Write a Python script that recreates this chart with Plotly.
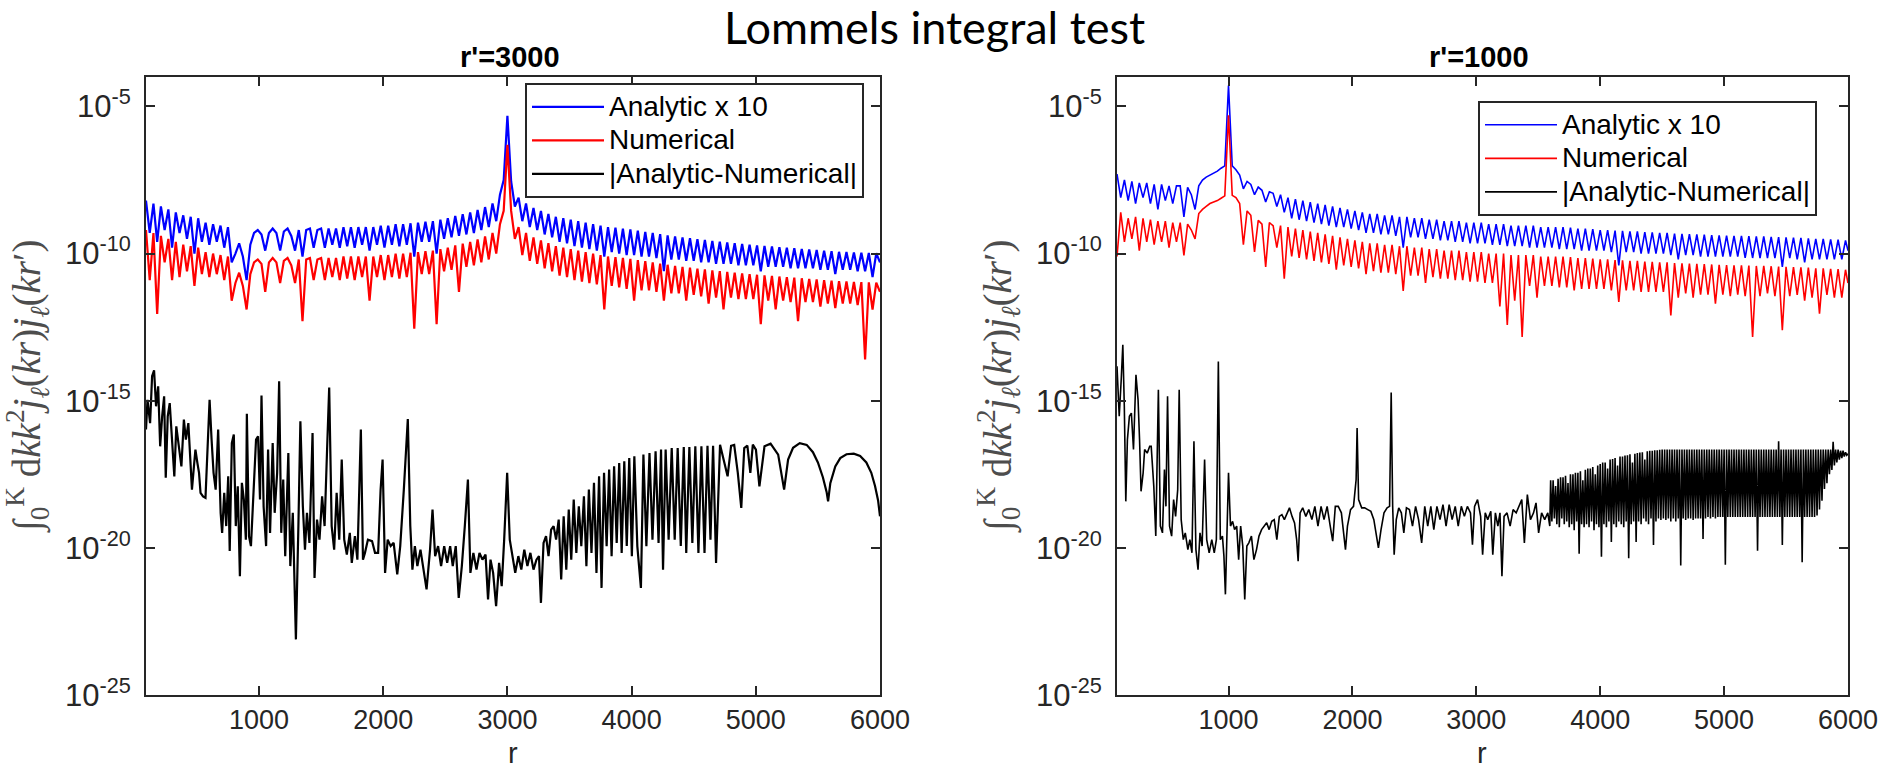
import plotly.graph_objects as go

# ---------------- data (values are log10 of the plotted quantity) ----------------
R_LEFT = list(range(90, 6001, 30))          # sample positions r, panel r'=3000
LEFT_ANALYTIC_LOG = [
    -8.2, -9.3, -8.3, -9.6, -8.4, -9.2, -8.5, -9.8, -8.6, -9.3,
    -8.7, -9.5, -8.75, -10.0, -8.8, -9.6, -8.95, -9.7, -9.0, -9.6,
    -9.05, -9.8, -9.1, -10.3, -10.0, -9.65, -10.1, -10.9, -9.7, -9.3,
    -9.2, -9.35, -9.9, -9.3, -9.15, -9.3, -9.9, -9.25, -9.15, -9.4,
    -9.9, -9.2, -10.1, -9.2, -9.15, -9.8, -9.2, -9.15, -9.8, -9.15,
    -9.7, -9.15, -9.8, -9.1, -9.75, -9.1, -9.8, -9.1, -9.7, -9.1,
    -9.9, -9.1, -9.7, -9.05, -9.8, -9.05, -9.7, -9.0, -9.75, -9.0,
    -9.7, -8.97, -10.1, -8.95, -9.6, -8.92, -9.6, -8.9, -10.0, -8.85,
    -9.5, -8.8, -9.45, -8.72, -9.4, -8.66, -9.35, -8.6, -9.3, -8.52,
    -9.2, -8.42, -9.1, -8.3, -8.9, -8.0, -7.5, -5.32, -7.55, -8.4,
    -8.1, -8.9, -8.3, -9.1, -8.45, -9.2, -8.55, -9.35, -8.65, -9.45,
    -8.75, -9.6, -8.8, -9.65, -8.85, -9.75, -8.9, -9.8, -8.95, -9.85,
    -9.0, -9.9, -9.05, -10.1, -9.1, -9.95, -9.12, -10.0, -9.15, -10.05,
    -9.18, -10.05, -9.22, -10.1, -9.26, -10.1, -9.3, -10.15, -9.34, -10.6,
    -9.38, -10.2, -9.42, -10.2, -9.45, -10.25, -9.48, -10.25, -9.51, -10.3,
    -9.54, -10.3, -9.57, -10.35, -9.6, -10.35, -9.62, -10.35, -9.65, -10.4,
    -9.67, -10.4, -9.7, -10.4, -9.72, -10.6, -9.74, -10.45, -9.76, -10.45,
    -9.78, -10.45, -9.8, -10.5, -9.82, -10.5, -9.84, -10.5, -9.86, -10.5,
    -9.88, -10.55, -9.9, -10.55, -9.92, -10.7, -9.94, -10.55, -9.95, -10.55,
    -9.96, -10.6, -9.97, -10.6, -9.98, -10.8, -9.99, -10.3]
LEFT_NUMERICAL_LOG = [
    -9.2, -10.9, -9.3, -12.05, -9.4, -10.3, -9.5, -10.9, -9.6, -10.8,
    -9.7, -10.6, -9.75, -11.1, -9.8, -10.7, -9.95, -10.8, -10.0, -10.7,
    -10.05, -10.9, -10.1, -11.6, -11.0, -10.65, -11.1, -11.9, -10.7, -10.3,
    -10.2, -10.35, -11.3, -10.3, -10.15, -10.3, -11.0, -10.25, -10.15, -10.4,
    -11.0, -10.2, -12.3, -10.2, -10.15, -10.9, -10.2, -10.15, -10.9, -10.15,
    -10.8, -10.15, -10.9, -10.1, -10.85, -10.1, -10.9, -10.1, -10.8, -10.1,
    -11.6, -10.1, -10.8, -10.05, -10.9, -10.05, -10.8, -10.0, -10.85, -10.0,
    -10.8, -9.97, -12.55, -9.95, -10.7, -9.92, -10.7, -9.9, -12.4, -9.85,
    -10.6, -9.8, -10.55, -9.72, -11.3, -9.66, -10.45, -9.6, -10.4, -9.52,
    -10.3, -9.42, -10.2, -9.3, -10.0, -9.0, -8.55, -6.3, -8.55, -9.5,
    -9.1, -10.05, -9.3, -10.25, -9.45, -10.35, -9.55, -10.5, -9.65, -10.6,
    -9.75, -10.75, -9.8, -10.8, -9.85, -10.9, -9.9, -10.95, -9.95, -11.0,
    -10.0, -11.05, -10.05, -11.9, -10.1, -11.1, -10.12, -11.15, -10.15, -11.2,
    -10.18, -11.6, -10.22, -11.25, -10.26, -11.25, -10.3, -11.3, -10.34, -11.6,
    -10.38, -11.35, -10.42, -11.35, -10.45, -11.6, -10.48, -11.4, -10.51, -11.45,
    -10.54, -11.7, -10.57, -11.5, -10.6, -11.9, -10.62, -11.5, -10.65, -11.55,
    -10.67, -11.55, -10.7, -11.55, -10.72, -12.4, -10.74, -11.6, -10.76, -11.9,
    -10.78, -11.6, -10.8, -11.65, -10.82, -12.3, -10.84, -11.65, -10.86, -11.65,
    -10.88, -11.8, -10.9, -11.7, -10.92, -11.85, -10.94, -11.7, -10.95, -11.7,
    -10.96, -11.75, -10.97, -13.6, -10.98, -11.9, -10.99, -11.3]
LEFT_DIFF = [  # (r, log10 |Analytic-Numerical|), panel r'=3000
    (90, -15.98), (102, -14.97), (123, -15.76), (139, -14.17), (155, -13.97), (171, -15.19),
    (188, -14.51), (204, -16.55), (220, -15.53), (236, -14.85), (249, -17.62), (265, -15.53),
    (281, -15.08), (301, -16.32), (318, -17.57), (334, -15.87), (354, -16.55), (375, -17.23),
    (395, -15.64), (411, -16.32), (431, -15.76), (448, -17.28), (460, -18.02), (476, -17.23),
    (488, -16.66), (504, -17.12), (517, -17.45), (529, -18.13), (549, -18.25), (569, -18.3),
    (586, -16.32), (602, -14.97), (618, -16.32), (634, -17.45), (651, -18.02), (671, -15.98),
    (691, -18.81), (703, -19.49), (720, -18.13), (736, -19.26), (752, -17.57), (764, -20.11),
    (781, -16.44), (797, -16.15), (813, -19.26), (829, -17.91), (846, -20.96), (862, -17.79),
    (878, -18.36), (894, -19.72), (902, -15.44), (919, -19.6), (935, -19.94), (955, -18.02),
    (976, -16.32), (992, -16.21), (1008, -18.36), (1020, -14.82), (1037, -18.59), (1057, -19.94),
    (1073, -16.66), (1089, -19.49), (1110, -16.44), (1126, -18.81), (1146, -17.45), (1162, -14.34),
    (1179, -19.49), (1195, -17.68), (1211, -20.28), (1236, -16.78), (1252, -20.62), (1272, -18.81),
    (1297, -23.11), (1317, -19.26), (1333, -15.7), (1353, -18.59), (1370, -20.06), (1386, -18.81),
    (1406, -19.83), (1431, -16.1), (1447, -21.02), (1467, -19.04), (1487, -19.72), (1508, -18.25),
    (1528, -19.26), (1548, -16.66), (1565, -14.55), (1585, -19.26), (1605, -20.06), (1625, -18.13),
    (1646, -19.72), (1666, -17.0), (1686, -19.72), (1707, -20.23), (1731, -19.49), (1747, -20.51),
    (1772, -19.6), (1792, -20.4), (1820, -15.98), (1837, -20.4), (1853, -20.17), (1877, -19.72),
    (1910, -19.77), (1934, -20.17), (1959, -20.17), (1979, -18.02), (1995, -17.0), (2015, -20.85),
    (2036, -19.72), (2060, -19.94), (2084, -19.83), (2113, -20.9), (2137, -19.94), (2166, -18.02),
    (2198, -15.62), (2218, -19.26), (2235, -20.74), (2255, -19.94), (2275, -20.62), (2300, -20.06),
    (2324, -20.74), (2349, -21.41), (2377, -20.06), (2397, -18.7), (2418, -20.28), (2442, -19.94),
    (2466, -20.62), (2491, -19.94), (2515, -20.51), (2539, -19.94), (2560, -20.62), (2584, -19.94),
    (2608, -21.7), (2633, -20.62), (2657, -19.26), (2682, -17.68), (2702, -20.85), (2726, -20.17),
    (2751, -20.74), (2775, -20.17), (2799, -20.4), (2824, -20.23), (2844, -21.75), (2864, -20.4),
    (2885, -20.85), (2909, -21.98), (2933, -20.51), (2954, -21.3), (2974, -19.72), (2998, -17.45),
    (3019, -19.72), (3039, -20.28), (3063, -20.85), (3088, -20.28), (3112, -20.74), (3136, -20.06),
    (3161, -20.62), (3185, -20.17), (3210, -20.74), (3234, -20.4), (3254, -20.28), (3270, -21.87),
    (3291, -19.83), (3311, -19.6), (3331, -20.28), (3352, -19.38), (3372, -19.26), (3392, -19.72),
    (3413, -19.04), (3433, -21.07), (3453, -18.93), (3474, -20.74), (3494, -18.7), (3514, -20.4),
    (3534, -18.36), (3555, -20.17), (3575, -18.59), (3595, -19.94), (3616, -18.25), (3636, -20.62),
    (3656, -18.02), (3677, -20.17), (3697, -17.79), (3717, -20.85), (3738, -17.57), (3758, -21.36),
    (3778, -17.45), (3799, -19.94), (3819, -17.34), (3839, -20.28), (3859, -17.23), (3880, -19.83),
    (3900, -17.12), (3920, -20.17), (3941, -17.06), (3961, -19.94), (3981, -16.95), (4002, -20.28),
    (4022, -16.89), (4046, -19.94), (4075, -21.36), (4095, -16.83), (4119, -19.94), (4144, -16.78),
    (4168, -19.72), (4193, -16.72), (4217, -19.83), (4237, -16.66), (4253, -20.74), (4274, -16.66),
    (4298, -19.72), (4323, -16.61), (4347, -19.72), (4371, -16.61), (4396, -19.94), (4420, -16.57),
    (4440, -20.17), (4465, -16.57), (4489, -19.83), (4513, -16.55), (4538, -20.17), (4562, -16.55),
    (4587, -20.17), (4611, -16.53), (4635, -19.72), (4656, -16.53), (4680, -20.51), (4712, -16.5),
    (4753, -17.23), (4773, -17.57), (4801, -16.53), (4826, -16.5), (4855, -17.45), (4883, -18.64),
    (4907, -16.61), (4932, -16.53), (4956, -17.45), (4976, -16.49), (5001, -16.66), (5029, -17.91),
    (5070, -16.55), (5119, -16.46), (5180, -16.83), (5228, -18.02), (5260, -17.0), (5300, -16.6),
    (5354, -16.44), (5410, -16.5), (5460, -16.75), (5500, -17.1), (5540, -17.6), (5570, -18.1),
    (5582, -18.42), (5600, -17.8), (5640, -17.23), (5680, -16.95), (5730, -16.82), (5789, -16.8),
    (5840, -16.88), (5890, -17.1), (5930, -17.45), (5960, -17.9), (5985, -18.4), (6000, -18.93)]

R_RIGHT = list(range(100, 5981, 30)) + [6000]   # sample positions r, panel r'=1000
RIGHT_ANALYTIC_LOG = [
    -7.3, -8.1, -7.5, -8.2, -7.55, -8.3, -7.6, -8.1, -7.6, -8.3,
    -7.65, -8.5, -7.65, -8.2, -7.7, -8.3, -7.7, -7.7, -8.75, -7.75,
    -8.0, -8.5, -7.7, -7.5, -7.4, -7.33, -7.28, -7.2, -7.1, -7.02,
    -4.29, -7.02, -7.15, -7.33, -7.8, -7.55, -7.65, -8.0, -7.74, -7.85,
    -8.25, -7.9, -7.95, -8.4, -8.0, -8.6, -8.1, -8.8, -8.15, -8.85,
    -8.2, -8.9, -8.25, -8.95, -8.3, -9.0, -8.35, -9.05, -8.4, -9.1,
    -8.45, -9.1, -8.5, -9.15, -8.55, -9.2, -8.6, -9.3, -8.65, -9.3,
    -8.65, -9.35, -8.7, -9.35, -8.7, -9.4, -8.75, -9.8, -8.75, -9.45,
    -8.8, -9.45, -8.8, -9.5, -8.85, -9.5, -8.85, -9.55, -8.9, -9.55,
    -8.9, -9.6, -8.9, -9.6, -8.95, -9.65, -8.95, -9.65, -8.95, -9.65,
    -9.0, -9.7, -9.0, -9.7, -9.0, -9.75, -9.05, -9.75, -9.05, -9.75,
    -9.05, -9.8, -9.05, -9.8, -9.1, -9.8, -9.1, -9.8, -9.1, -9.85,
    -9.1, -9.85, -9.12, -9.85, -9.15, -9.9, -9.15, -9.9, -9.17, -9.9,
    -9.2, -9.9, -9.2, -9.95, -9.22, -10.4, -9.23, -9.95, -9.25, -9.95,
    -9.25, -10.0, -9.27, -10.0, -9.28, -10.0, -9.3, -10.0, -9.3, -10.05,
    -9.32, -10.2, -9.33, -10.05, -9.34, -10.05, -9.35, -10.1, -9.36, -10.1,
    -9.37, -10.1, -9.38, -10.1, -9.39, -10.1, -9.4, -10.1, -9.4, -10.15,
    -9.41, -10.15, -9.42, -10.15, -9.42, -10.15, -9.43, -10.15, -9.44, -10.45,
    -9.45, -10.15, -9.46, -10.2, -9.47, -10.3, -9.48, -10.2, -9.5, -10.2,
    -9.5, -10.2, -9.52, -10.2, -9.53, -10.2, -9.55, -9.9]
RIGHT_NUMERICAL_LOG = [
    -10.1, -8.6, -9.6, -8.8, -9.5, -8.75, -9.9, -8.8, -9.6, -8.85,
    -9.7, -8.9, -9.6, -8.9, -9.8, -8.95, -9.6, -8.95, -10.06, -9.0,
    -9.2, -9.5, -8.64, -8.5, -8.4, -8.3, -8.25, -8.2, -8.12, -8.04,
    -5.3, -8.02, -8.1, -8.3, -9.7, -8.55, -8.7, -9.94, -8.87, -9.0,
    -10.45, -8.95, -9.05, -9.8, -9.05, -10.85, -9.1, -10.1, -9.15, -10.15,
    -9.2, -10.2, -9.25, -10.25, -9.3, -10.3, -9.35, -10.35, -9.4, -10.55,
    -9.45, -10.4, -9.5, -10.45, -9.55, -10.5, -9.6, -10.7, -9.65, -10.6,
    -9.65, -10.65, -9.7, -10.65, -9.7, -10.7, -9.75, -11.27, -9.75, -10.75,
    -9.8, -10.75, -9.8, -11.0, -9.85, -10.8, -9.85, -10.85, -9.9, -10.85,
    -9.9, -10.9, -9.9, -10.9, -9.95, -10.95, -9.95, -10.95, -9.95, -11.0,
    -10.0, -11.0, -10.0, -11.8, -10.0, -12.43, -10.05, -11.6, -10.05, -12.83,
    -10.05, -11.1, -10.05, -11.5, -10.1, -11.1, -10.1, -11.1, -10.1, -11.15,
    -10.1, -11.15, -10.12, -11.25, -10.15, -11.2, -10.15, -11.2, -10.17, -11.2,
    -10.2, -11.2, -10.2, -11.25, -10.22, -11.64, -10.23, -11.25, -10.25, -11.25,
    -10.25, -11.3, -10.27, -11.3, -10.28, -11.3, -10.3, -11.3, -10.3, -12.1,
    -10.32, -11.5, -10.33, -11.35, -10.34, -11.5, -10.35, -11.4, -10.36, -11.4,
    -10.37, -11.7, -10.38, -11.4, -10.39, -11.45, -10.4, -11.4, -10.4, -11.45,
    -10.41, -12.83, -10.42, -11.45, -10.42, -11.35, -10.43, -11.45, -10.44, -12.6,
    -10.45, -11.45, -10.46, -11.4, -10.47, -11.6, -10.48, -11.5, -10.5, -12.04,
    -10.5, -11.4, -10.52, -11.5, -10.53, -11.5, -10.55, -11.0]
RIGHT_DIFF = [  # (r, log10 |Analytic-Numerical|), panel r'=1000, r < 3600
    (100, -13.83), (118, -15.53), (134, -14.29), (147, -13.1), (159, -15.19), (171, -18.42),
    (184, -16.32), (200, -15.53), (216, -15.42), (233, -16.66), (253, -14.12), (270, -14.97),
    (282, -16.32), (294, -18.08), (311, -17.45), (323, -16.66), (344, -16.78), (364, -16.55),
    (376, -16.55), (397, -17.91), (413, -19.6), (434, -14.63), (450, -19.26), (467, -19.49),
    (483, -17.34), (495, -18.59), (508, -14.85), (524, -19.26), (541, -19.6), (557, -18.36),
    (573, -18.93), (590, -18.02), (602, -14.63), (618, -19.04), (635, -19.72), (651, -19.49),
    (672, -20.06), (688, -19.72), (705, -20.17), (721, -16.38), (737, -20.06), (754, -20.74),
    (770, -19.49), (787, -19.94), (807, -17.0), (824, -19.72), (844, -20.17), (865, -19.72),
    (885, -20.17), (902, -19.72), (918, -13.67), (934, -19.72), (951, -19.6), (963, -20.28),
    (975, -21.58), (988, -19.72), (1000, -17.45), (1016, -19.26), (1033, -19.1), (1049, -19.38),
    (1066, -19.26), (1082, -20.4), (1098, -19.26), (1115, -19.94), (1131, -21.75), (1148, -19.94),
    (1164, -19.83), (1185, -19.6), (1205, -20.4), (1226, -20.06), (1246, -19.6), (1267, -19.38),
    (1287, -19.26), (1308, -19.15), (1328, -19.38), (1349, -19.1), (1369, -19.04), (1390, -19.72),
    (1410, -18.93), (1431, -18.87), (1451, -19.04), (1472, -18.81), (1492, -18.64), (1513, -18.93),
    (1533, -19.15), (1550, -19.72), (1562, -20.45), (1578, -18.81), (1599, -18.64), (1624, -18.93),
    (1648, -18.7), (1673, -19.04), (1697, -18.59), (1722, -19.26), (1747, -18.59), (1771, -19.04),
    (1796, -18.59), (1821, -19.26), (1841, -19.77), (1862, -18.59), (1886, -18.59), (1911, -18.81),
    (1927, -19.38), (1944, -20.06), (1960, -19.26), (1985, -18.7), (2009, -18.59), (2030, -17.68),
    (2038, -15.93), (2050, -18.36), (2075, -18.64), (2099, -18.64), (2124, -18.7), (2149, -18.76),
    (2173, -19.04), (2190, -19.49), (2210, -20.0), (2231, -19.38), (2255, -18.81), (2280, -18.64),
    (2300, -18.59), (2313, -14.72), (2325, -18.59), (2337, -20.23), (2354, -19.04), (2374, -18.64),
    (2395, -18.81), (2415, -19.49), (2436, -18.64), (2460, -18.7), (2485, -19.26), (2510, -18.59),
    (2534, -19.04), (2559, -19.83), (2584, -18.59), (2608, -19.26), (2633, -18.59), (2657, -19.38),
    (2682, -18.59), (2707, -19.04), (2731, -18.53), (2756, -19.26), (2781, -18.53), (2805, -19.04),
    (2830, -18.59), (2854, -19.26), (2879, -18.59), (2904, -18.93), (2928, -18.59), (2953, -18.81),
    (2969, -19.89), (2986, -18.59), (3010, -18.36), (3035, -18.93), (3051, -20.23), (3072, -18.81),
    (3092, -19.04), (3117, -18.76), (3133, -20.23), (3154, -18.81), (3174, -19.26), (3191, -18.81),
    (3207, -20.96), (3224, -18.93), (3248, -18.81), (3273, -19.26), (3297, -18.7), (3322, -18.81),
    (3347, -18.59), (3367, -18.36), (3388, -19.83), (3412, -18.19), (3437, -19.04), (3462, -18.81),
    (3482, -18.47), (3503, -19.49), (3527, -18.81), (3552, -19.04), (3577, -18.81), (3593, -19.26)]
R_BAND = list(range(3600, 6001, 10))   # sample positions of the dense band, panel r'=1000
RIGHT_DIFF_BAND_LOG = [
    -17.7, -19.1, -17.7, -19.0, -17.9, -19.2, -17.65, -19.3, -17.6, -19.0,
    -17.6, -19.2, -17.55, -19.1, -17.8, -19.3, -17.5, -19.2, -17.5, -19.4,
    -17.45, -19.1, -17.45, -20.2, -17.4, -19.2, -17.7, -19.3, -17.35, -19.2,
    -17.3, -19.3, -17.3, -19.1, -17.25, -19.4, -17.5, -19.2, -17.2, -19.3,
    -17.15, -20.3, -17.1, -19.2, -17.1, -19.3, -17.3, -19.1, -17.0, -19.8,
    -16.98, -19.2, -16.95, -19.3, -17.2, -19.1, -16.9, -19.2, -16.9, -19.3,
    -16.86, -19.1, -16.85, -20.35, -16.82, -19.2, -17.1, -19.1, -16.8, -19.8,
    -16.78, -19.1, -16.76, -19.2, -16.75, -19.0, -17.0, -19.1, -16.72, -19.2,
    -16.7, -19.0, -16.7, -19.9, -16.68, -19.1, -16.68, -19.0, -16.67, -19.05,
    -16.66, -19.0, -16.66, -19.05, -16.66, -19.0, -16.66, -19.1, -16.66, -19.0,
    -16.66, -19.1, -16.66, -19.0, -16.66, -20.6, -16.66, -19.0, -16.66, -19.05,
    -16.66, -19.0, -16.66, -19.0, -16.66, -19.05, -16.66, -19.0, -16.66, -19.0,
    -16.66, -19.0, -16.66, -19.7, -16.66, -19.0, -16.66, -18.95, -16.66, -19.0,
    -16.66, -18.95, -16.66, -19.0, -16.66, -18.95, -16.66, -18.95, -16.66, -18.95,
    -16.66, -20.57, -16.66, -18.95, -16.66, -18.95, -16.66, -18.95, -16.66, -18.95,
    -16.66, -18.95, -16.66, -18.95, -16.66, -18.95, -16.66, -18.95, -16.66, -18.95,
    -16.66, -18.95, -16.66, -18.95, -16.66, -18.95, -16.66, -20.1, -16.66, -18.95,
    -16.66, -18.95, -16.66, -18.95, -16.66, -18.95, -16.66, -18.95, -16.66, -18.95,
    -16.66, -18.95, -16.66, -18.95, -16.38, -18.95, -16.66, -19.9, -16.66, -18.95,
    -16.66, -18.95, -16.66, -18.95, -16.66, -18.95, -16.66, -18.95, -16.66, -18.95,
    -16.66, -18.95, -16.66, -20.49, -16.66, -18.95, -16.66, -18.95, -16.66, -18.95,
    -16.66, -18.95, -16.66, -18.95, -16.66, -18.9, -16.66, -18.7, -16.66, -18.4,
    -16.66, -18.0, -16.66, -17.8, -16.66, -17.5, -16.66, -17.35, -16.4, -17.2,
    -16.66, -17.1, -16.66, -17.0, -16.7, -16.95, -16.7, -16.9, -16.75, -16.85,
    -16.8]

SERIES_NAMES = ["Analytic x 10", "Numerical", "|Analytic-Numerical|"]
SERIES_COLORS = ["#0000FF", "#FF0000", "#000000"]
PANEL_TITLES = ["r'=3000", "r'=1000"]
X_TICKS = [1000, 2000, 3000, 4000, 5000, 6000]
Y_TICK_EXP = [-25, -20, -15, -10, -5]

# ---------------- figure ----------------
W, H = 1901, 769
SANS = "Liberation Sans, Arial, Helvetica, sans-serif"
AXC = "#262626"

def pw(v):
    return [10.0 ** e for e in v]

fig = go.Figure()

left_diff_r = [p[0] for p in LEFT_DIFF]
left_diff_v = [p[1] for p in LEFT_DIFF]
right_diff_r = [p[0] for p in RIGHT_DIFF] + R_BAND
right_diff_v = [p[1] for p in RIGHT_DIFF] + RIGHT_DIFF_BAND_LOG

panels = [
    ("x", "y", "legend", 2.2, [(R_LEFT, LEFT_ANALYTIC_LOG), (R_LEFT, LEFT_NUMERICAL_LOG), (left_diff_r, left_diff_v)]),
    ("x2", "y2", "legend2", 1.6, [(R_RIGHT, RIGHT_ANALYTIC_LOG), (R_RIGHT, RIGHT_NUMERICAL_LOG), (right_diff_r, right_diff_v)]),
]
for xa, ya, lg, lw, series in panels:
    for (rx, lv), name, col in zip(series, SERIES_NAMES, SERIES_COLORS):
        fig.add_trace(go.Scatter(x=rx, y=pw(lv), mode="lines",
                                 name='<span style="font-size:28px">%s</span>' % name,
                                 line=dict(color=col, width=lw),
                                 xaxis=xa, yaxis=ya, legend=lg, showlegend=True))

ytick_vals = [10.0 ** e for e in Y_TICK_EXP]
ytick_text = ["10<sup>%d</sup>" % e for e in Y_TICK_EXP]

common_x = dict(showline=True, linecolor=AXC, linewidth=2, mirror="ticks",
                ticks="inside", ticklen=9, tickwidth=2, tickcolor=AXC, automargin=False,
                showgrid=False, zeroline=False, tickvals=X_TICKS,
                tickfont=dict(family=SANS, size=27, color=AXC))
common_y = dict(type="log", range=[-25, -4], showline=True, linecolor=AXC, linewidth=2,
                mirror="ticks", ticks="inside", ticklen=9, tickwidth=2, tickcolor=AXC,
                showgrid=False, zeroline=False, tickvals=ytick_vals, ticktext=ytick_text,
                ticklabelstandoff=7, automargin=False,
                tickfont=dict(family=SANS, size=31, color=AXC))

ydom = [74 / H, 692 / H]
legend_common = dict(xanchor="left", yanchor="top", bgcolor="white", bordercolor=AXC,
                     borderwidth=2, itemwidth=72, tracegroupgap=0,
                     font=dict(family=SANS, size=23.5, color="black"))
fig.update_layout(
    width=W, height=H, autosize=False,
    margin=dict(l=0, r=0, t=0, b=0, pad=0, autoexpand=False),
    paper_bgcolor="white", plot_bgcolor="white",
    xaxis=dict(domain=[146 / W, 880 / W], range=[90, 6000], anchor="y", **common_x),
    yaxis=dict(domain=ydom, anchor="x", **common_y),
    xaxis2=dict(domain=[1117 / W, 1848 / W], range=[100, 6000], anchor="y2", **common_x),
    yaxis2=dict(domain=ydom, anchor="x2", **common_y),
    legend=dict(x=525 / W, y=1 - 83 / H, **legend_common),
    legend2=dict(x=1478 / W, y=1 - 101 / H, **legend_common),
    showlegend=True,
)

ytitle = ("\u222B<sub>0</sub><sup>K</sup> d<i>kk</i><sup>2</sup><i>j</i><sub><i>\u2113</i></sub>(<i>kr</i>)"
          "<i>j</i><sub><i>\u2113</i></sub>(<i>kr</i>\u2032)")

ann = []
ann.append(dict(text="Lommels integral test", x=934 / W, y=1 - 27 / H, xref="paper", yref="paper",
                xanchor="center", yanchor="middle", showarrow=False,
                font=dict(family="Lato, Open Sans, sans-serif", size=45, color="black")))
for cx, t in zip([510, 1479], PANEL_TITLES):
    ann.append(dict(text="<b>%s</b>" % t, x=cx / W, y=1 - 57 / H, xref="paper", yref="paper",
                    xanchor="center", yanchor="middle", showarrow=False,
                    font=dict(family=SANS, size=29, color="black")))
for cx in [513, 1482]:
    ann.append(dict(text="r", x=cx / W, y=1 - 753 / H, xref="paper", yref="paper",
                    xanchor="center", yanchor="middle", showarrow=False,
                    font=dict(family=SANS, size=29, color=AXC)))
for cx in [27, 998]:
    ann.append(dict(text=ytitle, x=cx / W, y=1 - 386 / H, xref="paper", yref="paper",
                    xanchor="center", yanchor="middle", showarrow=False, textangle=-90,
                    font=dict(family="Liberation Serif, DejaVu Serif, serif", size=39, color="#4d4d4d")))
fig.update_layout(annotations=ann)

fig.write_html("out.html")
